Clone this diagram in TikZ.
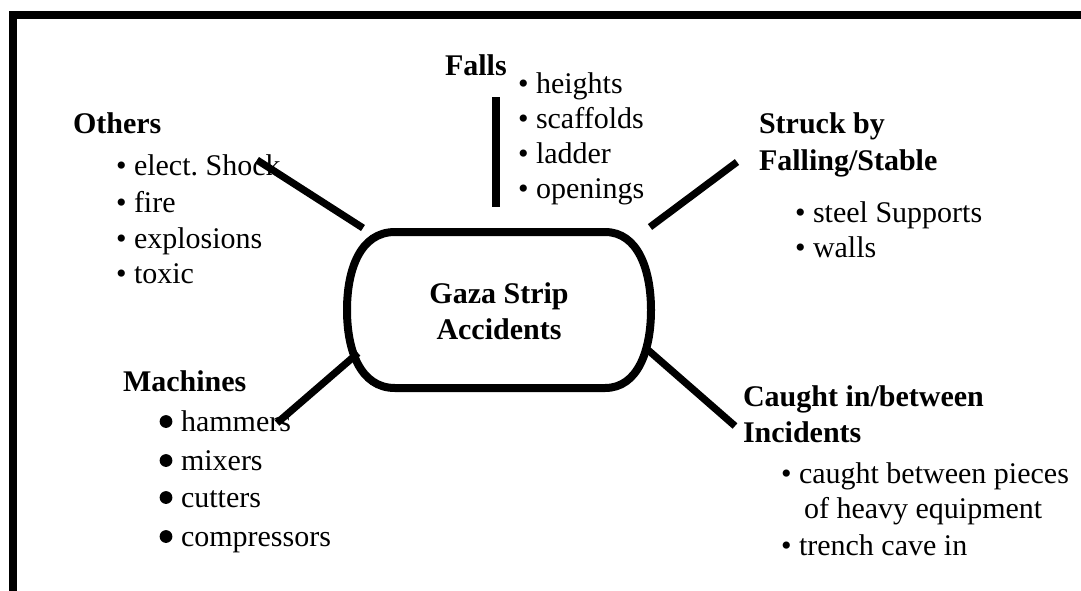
\documentclass[tikz,border=0pt]{standalone}
\usepackage{fontspec}
\setmainfont{Liberation Serif}
\frenchspacing
\begin{document}
\begin{tikzpicture}[x=0.5pt,y=-0.5pt,
  txt/.style={inner sep=0pt,outer sep=0pt,anchor=base west,font=\fontsize{15}{18}\selectfont},
  head/.style={txt,font=\fontsize{15}{18}\selectfont\bfseries},
  conn/.style={line width=3.6pt},
  frameline/.style={line width=4pt},
  hub/.style={line width=4pt}]
\useasboundingbox (0,0) rectangle (1081,590);
\clip (0,0) rectangle (1081,590);
% frame
\draw[frameline] (13,600) -- (13,15) -- (1090,15);
% central shape
\draw[hub] (395,232) -- (605,232) .. controls (638,232) and (651,270) .. (651,310)
  .. controls (651,350) and (638,388) .. (605,388) -- (395,388)
  .. controls (360,388) and (347,350) .. (347,310)
  .. controls (347,270) and (360,232) .. (395,232) -- cycle;
\node[head,anchor=base] (g1) at (499,303) {Gaza Strip};
\node[head,anchor=base] (g2) at (499,339) {Accidents};
% Falls
\node[head] (falls) at (445,75) {Falls};
\node[txt] (f1) at (518,93) {\textbullet\ heights};
\node[txt] (f2) at (518,128) {\textbullet\ scaffolds};
\node[txt] (f3) at (518,163) {\textbullet\ ladder};
\node[txt] (f4) at (518,198) {\textbullet\ openings};
% Others
\node[head] (others) at (73,133) {Others};
\node[txt] (o1) at (116,175) {\textbullet\ elect. Shock};
\node[txt] (o2) at (116,212) {\textbullet\ fire};
\node[txt] (o3) at (116,248) {\textbullet\ explosions};
\node[txt] (o4) at (116,283) {\textbullet\ toxic};
% Struck
\node[head] (s0) at (759,133) {Struck by};
\node[head] (s00) at (759,170) {Falling/Stable};
\node[txt] (s1) at (795,222) {\textbullet\ steel Supports};
\node[txt] (s2) at (795,257) {\textbullet\ walls};
% Machines
\node[head] (mach) at (123,391) {Machines};
\node[txt] (m1) at (181,431) {hammers};
\node[txt] (m2) at (181,470) {mixers};
\node[txt] (m3) at (181,507) {cutters};
\node[txt] (m4) at (181,546) {compressors};
\foreach \yy in {431,470,507,546} \fill (166,\yy-9.5) circle[radius=3.2pt];
% Caught
\node[head] (c0) at (743,406) {Caught in/between};
\node[head] (c00) at (743,442) {Incidents};
\node[txt] (c1) at (781,483) {\textbullet\ caught between pieces};
\node[txt] (c2) at (804,518) {of heavy equipment};
\node[txt] (c3) at (781,555) {\textbullet\ trench cave in};
% connectors
\coordinate (oA) at (257,160); \coordinate (oB) at (363,228);
\coordinate (fA) at (496,97);  \coordinate (fB) at (496,207);
\coordinate (sA) at (650,227); \coordinate (sB) at (737,162);
\coordinate (mA) at (277,423); \coordinate (mB) at (358,353);
\coordinate (cA) at (648,350); \coordinate (cB) at (735,426);
\draw[conn] (oA) -- (oB);
\draw[conn] (fA) -- (fB);
\draw[conn] (sA) -- (sB);
\draw[conn] (mA) -- (mB);
\draw[conn] (cA) -- (cB);
\end{tikzpicture}
\end{document}
